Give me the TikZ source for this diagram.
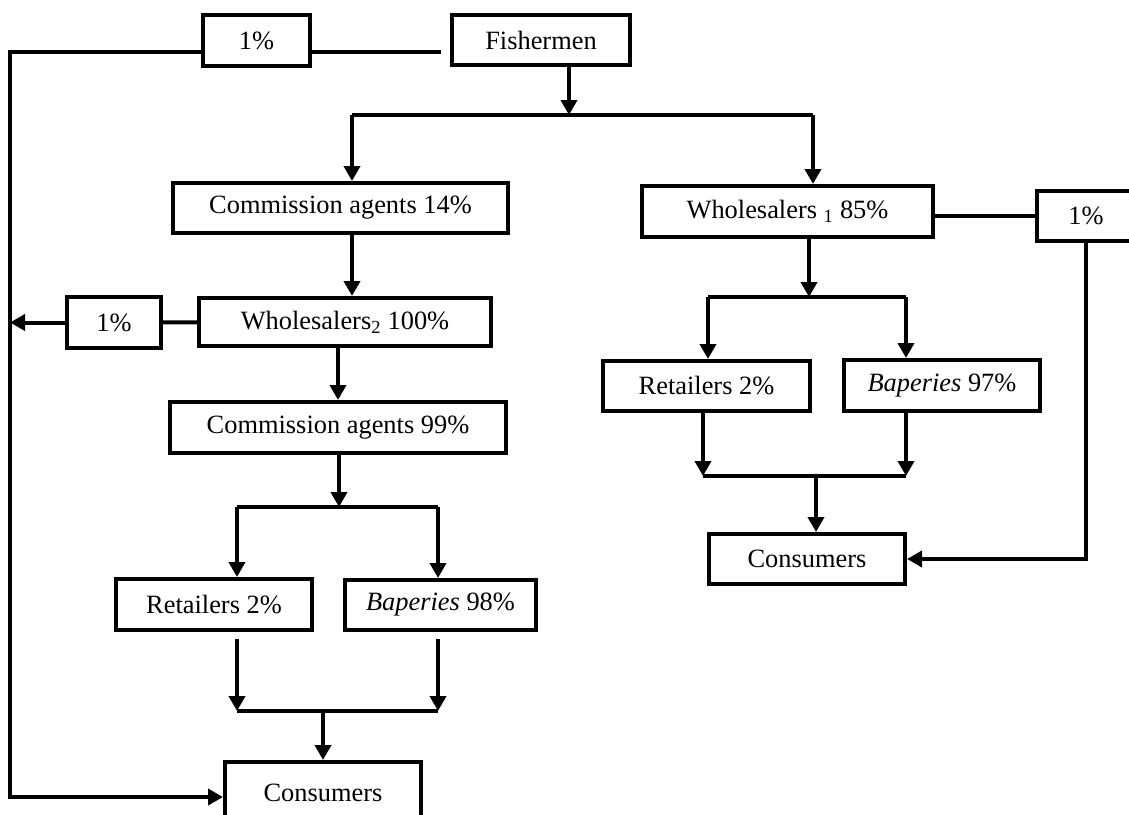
\documentclass[tikz,border=0pt]{standalone}
\usepackage{fontspec}
\setmainfont{Liberation Serif}
\usetikzlibrary{arrows.meta, calc}

\begin{document}
\begin{tikzpicture}[
  x=1pt, y=-1pt,
  box/.style={draw, line width=4pt, inner sep=0pt, align=center,
              font=\fontsize{26.4}{30}\selectfont},
  link/.style={line width=4pt},
  bar/.style={line width=3.5pt},
  flow/.style={link, -{Triangle[length=15pt,width=16pt]}}
]
\useasboundingbox (0,0) rectangle (1129,814);
\clip (0,0) rectangle (1129,814);

\node[box, minimum width=107pt, minimum height=51pt] (pctA) at (256.5,40.5) {1\%};
\node[box, minimum width=178pt, minimum height=50pt] (fish) at (541,40) {Fishermen};
\node[box, minimum width=335pt, minimum height=50pt] (ca1)  at (340.5,208) {Commission agents 14\%};
\node[box, minimum width=291pt, minimum height=51pt] (ws1)  at (787.5,211.5) {Wholesalers \textsubscript{1} 85\%};
\node[box, minimum width=98pt,  minimum height=50pt] (pctC) at (1086,216) {1\%};
\node[box, minimum width=94pt,  minimum height=51pt] (pctB) at (114,322.5) {1\%};
\node[box, minimum width=292pt, minimum height=48pt] (ws2)  at (345,322) {Wholesalers\textsubscript{2} 100\%};
\node[box, minimum width=336pt, minimum height=51pt] (ca2)  at (338,427.5) {Commission agents 99\%};
\node[box, minimum width=207pt, minimum height=50pt] (ret2) at (706.5,386) {Retailers 2\%};
\node[box, minimum width=196pt, minimum height=51pt] (bap2) at (942,385.5) {\textit{Baperies} 97\%};
\node[box, minimum width=196pt, minimum height=50pt] (con2) at (807,559) {Consumers};
\node[box, minimum width=196pt, minimum height=51pt] (ret1) at (214,604.5) {Retailers 2\%};
\node[box, minimum width=191pt, minimum height=50pt] (bap1) at (440.5,605) {\textit{Baperies} 98\%};
\node[box, minimum width=196pt, minimum height=62pt] (con1) at (323,793) {Consumers};

\coordinate (topL)    at (10,52);
\coordinate (botL)    at (12,797);
\coordinate (splitA)  at (569,115);
\coordinate (splitAL) at (352,115);
\coordinate (splitAR) at (813,115);
\coordinate (splitB)  at (339,507);
\coordinate (splitBL) at (237,507);
\coordinate (splitBR) at (438,507);
\coordinate (mergeB)  at (323,711);
\coordinate (mergeBL) at (237,711);
\coordinate (mergeBR) at (438,711);
\coordinate (splitC)  at (809,297);
\coordinate (splitCL) at (708,297);
\coordinate (splitCR) at (906,297);
\coordinate (mergeC)  at (816,476);
\coordinate (mergeCL) at (703,476);
\coordinate (mergeCR) at (906,476);

\draw[link] (pctA.east |- topL) -- ($(fish.west |- topL)+(-9,0)$);
\draw[flow] (pctA.west |- topL) -- (topL) -- (topL |- botL) -- (botL -| con1.west);

\draw[flow] (fish.south -| splitA) -- (splitA);
\draw[bar]  (splitAL) -- (splitAR);
\draw[flow] (splitAL) -- (splitAL |- ca1.north);
\draw[flow] (splitAR) -- (splitAR |- ws1.north);

\draw[flow] (ca1.south -| splitAL) -- (ws2.north -| splitAL);
\draw[link] (pctB) -- (ws2);
\draw[flow] (pctB.west) -- (pctB.west -| topL);
\draw[flow] (ws2.south -| ca2.north) -- (ca2.north);
\draw[flow] (ca2.south -| splitB) -- (splitB);
\draw[bar]  (splitBL) -- (splitBR);
\draw[flow] (splitBL) -- (splitBL |- ret1.north);
\draw[flow] (splitBR) -- (splitBR |- bap1.north);
\draw[flow, shorten <=7pt] (ret1.south -| mergeBL) -- (mergeBL);
\draw[flow, shorten <=7pt] (bap1.south -| mergeBR) -- (mergeBR);
\draw[bar]  (mergeBL) -- (mergeBR);
\draw[flow] (mergeB) -- (con1.north);

\draw[link] (ws1.east |- pctC) -- (pctC.west);
\draw[flow] (pctC.south) |- (con2.east);
\draw[flow] (ws1.south -| splitC) -- (splitC);
\draw[bar]  (splitCL) -- (splitCR);
\draw[flow] (splitCL) -- (splitCL |- ret2.north);
\draw[flow] (splitCR) -- (splitCR |- bap2.north);
\draw[flow] (ret2.south -| mergeCL) -- (mergeCL);
\draw[flow] (bap2.south -| mergeCR) -- (mergeCR);
\draw[bar]  (mergeCL) -- (mergeCR);
\draw[flow] (mergeC) -- (mergeC |- con2.north);
\end{tikzpicture}
\end{document}
